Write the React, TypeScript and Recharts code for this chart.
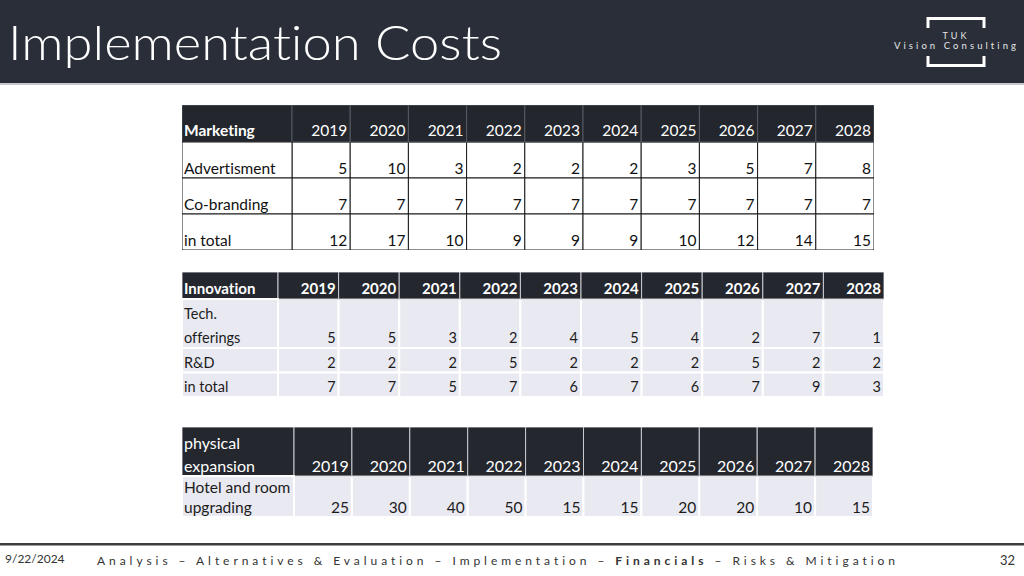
import React from 'react'
import { ScatterChart, Scatter, XAxis, YAxis, Customized } from 'recharts'

const FONT = 'Lato, "Noto Sans", sans-serif'
const NO_LIGA: React.CSSProperties = { fontVariantLigatures: 'none', fontFeatureSettings: '"liga" 0, "clig" 0' }

const years = ['2019', '2020', '2021', '2022', '2023', '2024', '2025', '2026', '2027', '2028']

const marketingRows = ['Advertisment', 'Co-branding', 'in total']
const advertisment = [5, 10, 3, 2, 2, 2, 3, 5, 7, 8]
const coBranding = [7, 7, 7, 7, 7, 7, 7, 7, 7, 7]
const marketingTotal = [12, 17, 10, 9, 9, 9, 10, 12, 14, 15]

const innovationRows = ['Tech.\nofferings', 'R&D', 'in total']
const techOfferings = [5, 5, 3, 2, 4, 5, 4, 2, 7, 1]
const rnd = [2, 2, 2, 5, 2, 2, 2, 5, 2, 2]
const innovationTotal = [7, 7, 5, 7, 6, 7, 6, 7, 9, 3]

const expansionRows = ['Hotel and room\nupgrading']
const hotelUpgrading = [25, 30, 40, 50, 15, 15, 20, 20, 10, 15]

type Theme = {
  headFill: string
  headLine: string
  headLineW: number
  bodyFill: string
  bodyLine: string
  bodyLineW: number
  bodyText: string
  cornerBold: boolean
  yearBold: boolean
  headSize: number
  bodySize: number
  headPad: number
  bodyPad: number
  headLineH: number
}

const gridTheme: Theme = {
  headFill: '#23262d', headLine: '#555963', headLineW: 1,
  bodyFill: '#ffffff', bodyLine: '#1a1a1a', bodyLineW: 1,
  bodyText: '#111', cornerBold: true, yearBold: false,
  headSize: 15.5, bodySize: 15.5, headPad: 6, bodyPad: 4, headLineH: 18,
}

const bandTheme: Theme = {
  headFill: '#24272e', headLine: '#c9cad2', headLineW: 1,
  bodyFill: '#e9e9f1', bodyLine: '#ffffff', bodyLineW: 2,
  bodyText: '#1c1c1c', cornerBold: true, yearBold: true,
  headSize: 15, bodySize: 14.5, headPad: 5, bodyPad: 5, headLineH: 18,
}

const plainHeadTheme: Theme = {
  ...bandTheme, cornerBold: false, yearBold: false,
  headSize: 16, bodySize: 15.5, headPad: 4, bodyPad: 4, headLineH: 23,
}

interface TableProps {
  corner: string
  rows: string[]
  values: number[][]
  width: number
  height: number
  headerH: number
  labelW: number
  theme: Theme
}

function CostTable({ corner, rows, values, width, height, headerH, labelW, theme }: TableProps) {
  // every text line of a row label gets its own band on the y axis
  const slots: { key: string; row: number; line: number; lines: string[] }[] = []
  rows.forEach((label, r) => {
    const lines = label.split('\n')
    lines.forEach((_, i) => slots.push({ key: `${r}-${i}`, row: r, line: i, lines }))
  })
  const data = slots.flatMap((s) =>
    years.map((y, c) => ({
      year: y,
      slot: s.key,
      span: s.lines.length,
      value: s.line === s.lines.length - 1 ? values[s.row][c] : null,
    })),
  )
  const bandW = (width - labelW) / years.length
  const bandH = (height - headerH) / slots.length

  const YTick = (p: any) => {
    const slot = slots.find((s) => s.key === p.payload.value)
    if (!slot || slot.line !== slot.lines.length - 1) return <g />
    const bottom = p.payload.coordinate + bandH / 2
    const top = bottom - slot.lines.length * bandH
    return (
      <g>
        <rect x={0} y={top} width={labelW} height={bottom - top} fill={theme.bodyFill}
          stroke={theme.bodyLine} strokeWidth={theme.bodyLineW} />
        {slot.lines.map((ln, i) => (
          <text key={i} x={2} y={bottom - theme.bodyPad - (slot.lines.length - 1 - i) * bandH}
            fontSize={theme.bodySize} fill={theme.bodyText} fontFamily={FONT} style={NO_LIGA}>{ln}</text>
        ))}
      </g>
    )
  }

  const XTick = (p: any) => {
    const cx = p.payload.coordinate
    return (
      <g>
        <rect x={cx - bandW / 2} y={0} width={bandW} height={headerH} fill={theme.headFill}
          stroke={theme.headLine} strokeWidth={theme.headLineW} />
        <text x={cx + bandW / 2 - 3} y={headerH - theme.headPad} textAnchor="end" fill="#fff"
          fontSize={theme.headSize} fontWeight={theme.yearBold ? 700 : 400} fontFamily={FONT}>
          {p.payload.value}
        </text>
      </g>
    )
  }

  const Cell = (p: any) => {
    const { cx, cy, payload } = p
    if (payload.value === null || payload.value === undefined) return <g />
    const bottom = cy + bandH / 2
    const top = bottom - payload.span * bandH
    return (
      <g>
        <rect x={cx - bandW / 2} y={top} width={bandW} height={bottom - top} fill={theme.bodyFill}
          stroke={theme.bodyLine} strokeWidth={theme.bodyLineW} />
        <text x={cx + bandW / 2 - 3} y={bottom - theme.bodyPad} textAnchor="end"
          fontSize={theme.bodySize} fill={theme.bodyText} fontFamily={FONT}>{payload.value}</text>
      </g>
    )
  }

  const cornerLines = corner.split('\n')
  const Corner = () => (
    <g>
      <rect x={0} y={0} width={labelW} height={headerH} fill={theme.headFill}
        stroke={theme.headLine} strokeWidth={theme.headLineW} />
      {cornerLines.map((ln, i) => (
        <text key={i} x={2} y={headerH - theme.headPad - (cornerLines.length - 1 - i) * theme.headLineH}
          fill="#fff" fontSize={theme.headSize} fontWeight={theme.cornerBold ? 700 : 400} fontFamily={FONT}
          style={NO_LIGA}>
          {ln}
        </text>
      ))}
    </g>
  )

  return (
    <ScatterChart width={width} height={height} margin={{ top: 0, right: 0, bottom: 0, left: 0 }}>
      <XAxis type="category" dataKey="year" orientation="top" height={headerH} allowDuplicatedCategory={false}
        interval={0} tickLine={false} axisLine={false} tick={XTick} />
      <YAxis type="category" dataKey="slot" width={labelW} allowDuplicatedCategory={false} reversed
        interval={0} tickLine={false} axisLine={false} tick={YTick} />
      <Scatter data={data} shape={Cell} isAnimationActive={false} />
      <Customized component={Corner} />
    </ScatterChart>
  )
}

function SlideChrome() {
  return (
    <svg width={1024} height={576} style={{ position: 'absolute', left: 0, top: 0, ...NO_LIGA }} fontFamily={FONT}>
      <rect x={0} y={0} width={1024} height={83} fill="#292e39" />
      <rect x={0} y={83} width={1024} height={2} fill="#c6c9cf" />
      <text x={8} y={60} fill="#fff" fontSize={47} fontWeight={300} textLength={494}
        lengthAdjust="spacingAndGlyphs" style={NO_LIGA}>Implementation Costs</text>
      <path d="M928,28 V18.5 H984 V28" stroke="#fff" strokeWidth={3} fill="none" />
      <path d="M928,56 V65.5 H984 V56" stroke="#fff" strokeWidth={3} fill="none" />
      <text x={956} y={39} textAnchor="middle" fill="#e6e6e6" fontSize={9} letterSpacing={3}>TUK</text>
      <text x={894} y={49} fill="#e6e6e6" fontSize={9.5} textLength={122} lengthAdjust="spacing"
        style={NO_LIGA}>Vision Consulting</text>
      <rect x={0} y={543} width={1024} height={2.5} fill="#3c3c3c" />
      <text x={5} y={563} fill="#333" fontSize={12}>9/22/2024</text>
      <text x={97} y={565} fill="#333" fontSize={12} textLength={798} lengthAdjust="spacing" style={NO_LIGA}>
        Analysis – Alternatives &amp; Evaluation – Implementation – <tspan fontWeight={700}>Financials</tspan> – Risks &amp; Mitigation
      </text>
      <text x={1000} y={565} fill="#333" fontSize={13}>32</text>
    </svg>
  )
}

export default function App() {
  return (
    <div style={{ position: 'fixed', left: 0, top: 0, width: 1024, height: 576, background: '#fff', overflow: 'hidden', fontFamily: FONT, ...NO_LIGA }}>
      <SlideChrome />
      <div style={{ position: 'absolute', left: 182, top: 105 }}>
        <CostTable corner="Marketing" rows={marketingRows} values={[advertisment, coBranding, marketingTotal]}
          width={692} height={145} headerH={37} labelW={110} theme={gridTheme} />
      </div>
      <div style={{ position: 'absolute', left: 182, top: 272 }}>
        <CostTable corner="Innovation" rows={innovationRows} values={[techOfferings, rnd, innovationTotal]}
          width={702} height={125} headerH={27} labelW={96} theme={bandTheme} />
      </div>
      <div style={{ position: 'absolute', left: 182, top: 427 }}>
        <CostTable corner={'physical\nexpansion'} rows={expansionRows} values={[hotelUpgrading]}
          width={691} height={90} headerH={49} labelW={112} theme={plainHeadTheme} />
      </div>
    </div>
  )
}
